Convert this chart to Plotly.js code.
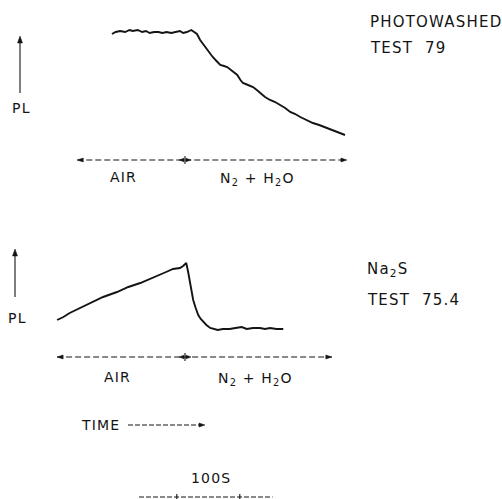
<!DOCTYPE html>
<html>
<head>
<meta charset="utf-8">
<script src="https://cdn.plot.ly/plotly-3.0.1.min.js"></script>
<style>
html,body{margin:0;padding:0;background:#fff;}
#chart{width:502px;height:499px;}
.annotation-text{letter-spacing:1.2px;}
</style>
</head>
<body>
<div id="chart"></div>
<script>
// ---- data (time in seconds, t = 0 at the gas switch; PL in arbitrary units) ----
const topTime = [-116,-110,-103,-95,-88,-83,-75,-68,-62,-56,-49,-42,-36,-29,-22,-15,-8,-3,3,10,15,19,24,30,35,40,44,50,56,62,67,75,83,88,92,100,108,114,119,127,135,143,151,159,167,175,183,193,203,213,225,233,241,249,254];
const topPL   = [126,128,129,128,130,129,130,128,129,127,128,128,127,128,127,128,129,127,128,130,128,126,120,115,110,106,103,99,95,94,93,89,85,80,77,75,73,70,67,63,60,58,55,52,48,46,43,40,37,35,32,30,28,26,25];
const botTime = [-203,-193,-183,-167,-151,-130,-108,-90,-71,-55,-40,-30,-19,-8,-3,2,5,8,11,13,17,21,25,29,34,40,46,52,60,71,80,90,98,108,119,127,135,145,156];
const botPL   = [37,40,44,49,54,60,65,70,74,78,82,85,88,89,91,94,85,74,65,57,49,42,38,35,32,29,28,27,28,28,29,30,28,29,29,28,29,28,28];
const switchTime = 0;
const topArrowSpan = [-171, 257];
const botArrowSpan = [-203, 233];
const scaleTicks = [-13, 87];   // 100 s apart
const topLabels = {name: "PHOTOWASHED", test: "TEST  79"};
const botLabels = {name: "Na<sub>2</sub>S", test: "TEST  75.4"};
const gasLabels = ["AIR", "N<sub>2</sub> + H<sub>2</sub>O"];
const axisLabel = "PL";
const timeLabel = "TIME";
const scaleLabel = "100S";

const W = 502, H = 499;
const pxPerSec = 0.63, switchPx = 185;
const xRange = [(0 - switchPx)/pxPerSec, (W - switchPx)/pxPerSec];
const topBase = 160, botBase = 357;           // pixel rows of the two time lines (PL = 0)
const py = p => 1 - p/H;      // pixel row -> paper y
const pxp = p => p/W;         // pixel col -> paper x
const tPx = t => switchPx + t*pxPerSec;       // time -> pixel col
const ink = '#141414';
const font = {family: 'DejaVu Sans, Liberation Sans, sans-serif', size: 14, color: ink};

const traces = [
  {x: topTime, y: topPL, xaxis: 'x', yaxis: 'y', mode: 'lines',
   line: {color: ink, width: 1.9}, hoverinfo: 'skip'},
  {x: botTime, y: botPL, xaxis: 'x', yaxis: 'y2', mode: 'lines',
   line: {color: ink, width: 1.9}, hoverinfo: 'skip'}
];

function ann(text, xp, yp, anchor, size) {
  return {text: text, xref: 'paper', yref: 'paper', x: pxp(xp), y: py(yp),
          xanchor: anchor || 'center', yanchor: 'middle', showarrow: false,
          font: Object.assign({}, font, size ? {size: size} : {})};
}

const annotations = [
  ann(topLabels.name, 368, 22, 'left', 15),
  ann(topLabels.test, 368, 48, 'left', 15),
  ann(axisLabel, 21, 108, 'center', 14),
  ann(gasLabels[0], 123, 177, 'center', 14),
  ann(gasLabels[1], 257, 179, 'center', 14),
  ann(botLabels.name, 365, 269, 'left', 15),
  ann(botLabels.test, 365, 300, 'left', 15),
  ann(axisLabel, 17, 318, 'center', 14),
  ann(gasLabels[0], 117, 377, 'center', 14),
  ann(gasLabels[1], 255, 379, 'center', 14),
  ann(timeLabel, 79, 425, 'left', 14),
  ann(scaleLabel, 211, 478, 'center', 14)
];

// small filled arrowhead drawn as a paper-coordinate triangle (pixel inputs)
function tri(tipX, tipY, dx, dy, len, half) {
  const bx = tipX - dx*len, by = tipY - dy*len;
  const nx = -dy, ny = dx;
  const pts = [[tipX, tipY], [bx + nx*half, by + ny*half], [bx - nx*half, by - ny*half]];
  const path = 'M' + pts.map(p => pxp(p[0]) + ',' + py(p[1])).join(' L') + ' Z';
  return {type:'path', xref:'paper', yref:'paper', path: path,
          fillcolor: ink, line: {color: ink, width: 0.5}};
}
function seg(x0, y0, x1, y1, dash, w) {
  return {type:'line', xref:'paper', yref:'paper', x0: pxp(x0), x1: pxp(x1), y0: py(y0), y1: py(y1),
          line: {color: ink, width: w || 1, dash: dash || 'solid'}};
}

const shapes = [
  // gas-switch time lines (data coordinates)
  {type:'line', xref:'x', yref:'y', x0: topArrowSpan[0], x1: topArrowSpan[1], y0:0, y1:0,
   line:{color:ink, width:1.1, dash:'6px,3px'}},
  {type:'line', xref:'x', yref:'y', x0: switchTime, x1: switchTime, y0:-4, y1:4,
   line:{color:ink, width:1.1}},
  {type:'line', xref:'x', yref:'y2', x0: botArrowSpan[0], x1: botArrowSpan[1], y0:0, y1:0,
   line:{color:ink, width:1.1, dash:'6px,3px'}},
  {type:'line', xref:'x', yref:'y2', x0: switchTime, x1: switchTime, y0:-4, y1:4,
   line:{color:ink, width:1.1}},
  // PL arrows
  seg(20, 93, 20, 40, 'solid', 1.1), tri(20, 36, 0, -1, 7, 2.5),
  seg(15, 297, 15, 253, 'solid', 1.1), tri(15, 249, 0, -1, 7, 2.5),
  // TIME dashed arrow
  seg(128, 425, 200, 425, '5px,2px', 1.1), tri(205, 425, 1, 0, 6, 2),
  // 100 s scale bar
  {type:'line', xref:'x', yref:'paper', x0: scaleTicks[0]-60, x1: scaleTicks[1]+52, y0:py(497), y1:py(497),
   line:{color:ink, width:1.1, dash:'5px,2px'}},
  {type:'line', xref:'x', yref:'paper', x0: scaleTicks[0], x1: scaleTicks[0], y0:py(494), y1:py(499),
   line:{color:ink, width:1.1}},
  {type:'line', xref:'x', yref:'paper', x0: scaleTicks[1], x1: scaleTicks[1], y0:py(494), y1:py(499),
   line:{color:ink, width:1.1}}
];
// arrowheads on the time lines
[[topArrowSpan, topBase], [botArrowSpan, botBase]].forEach(([span, base]) => {
  shapes.push(tri(tPx(span[1]), base, 1, 0, 6, 2));
  shapes.push(tri(tPx(span[0]), base, -1, 0, 6, 2));
  shapes.push(tri(tPx(switchTime) + 6, base, 1, 0, 5, 1.8));
  shapes.push(tri(tPx(switchTime) - 6, base, -1, 0, 5, 1.8));
});

const hiddenAxis = {showgrid:false, zeroline:false, showline:false, showticklabels:false, ticks:'', fixedrange:true};
const layout = {
  width: W, height: H, autosize: false,
  margin: {l:0, r:0, t:0, b:0, pad:0},
  paper_bgcolor: '#fff', plot_bgcolor: '#fff',
  showlegend: false,
  xaxis: Object.assign({range: xRange, domain:[0,1]}, hiddenAxis),
  yaxis: Object.assign({range: [topBase - H, topBase], domain:[0,1]}, hiddenAxis),
  yaxis2: Object.assign({range: [botBase - H, botBase], overlaying:'y'}, hiddenAxis),
  annotations: annotations,
  shapes: shapes
};
Plotly.newPlot('chart', traces, layout, {staticPlot:true, displayModeBar:false});
</script>
</body>
</html>
